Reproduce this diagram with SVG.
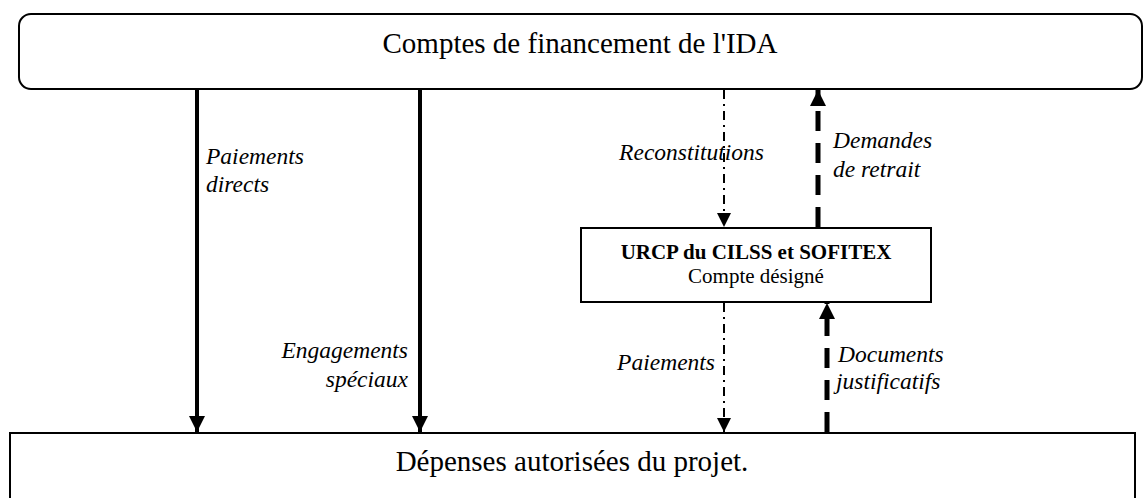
<svg xmlns="http://www.w3.org/2000/svg" width="1143" height="498" viewBox="0 0 1143 498">
<style>
.box{fill:#fff;stroke:#000;stroke-width:2}
.t{font-family:"Liberation Serif","Times New Roman",serif;fill:#000}
.lbl{font-family:"Liberation Serif","Times New Roman",serif;font-style:italic;font-size:23.5px;fill:#000}
.solid{stroke:#000;stroke-width:4;fill:none}
.dd{stroke:#000;stroke-width:2;fill:none;stroke-dasharray:9 5 2 5}
.dash{stroke:#000;stroke-width:5;fill:none;stroke-dasharray:20 12}
</style>
<defs>
<marker id="ah" viewBox="0 0 10 10" refX="10" refY="5" markerWidth="16" markerHeight="16" markerUnits="userSpaceOnUse" orient="auto"><path d="M0,0 L10,5 L0,10 z" fill="#000"/></marker>
<marker id="ahs" viewBox="0 0 10 10" refX="10" refY="5" markerWidth="14" markerHeight="14" markerUnits="userSpaceOnUse" orient="auto"><path d="M0,0 L10,5 L0,10 z" fill="#000"/></marker>
</defs>
<g id="ida">
<rect class="box" x="19" y="14" width="1123" height="75" rx="12"/>
<text class="t" x="580" y="53" font-size="29" text-anchor="middle">Comptes de financement de l'IDA</text>
</g>
<g id="urcp">
<rect class="box" x="581" y="228" width="350" height="74"/>
<text class="t" x="756" y="259" font-size="21" font-weight="bold" text-anchor="middle">URCP du CILSS et SOFITEX</text>
<text class="t" x="756" y="283" font-size="21" text-anchor="middle">Compte désigné</text>
</g>
<g id="depenses">
<rect class="box" x="10" y="433" width="1125" height="80"/>
<text class="t" x="572" y="471" font-size="29" text-anchor="middle">Dépenses autorisées du projet.</text>
</g>
<g id="connectors">
<line class="solid" x1="197" y1="88" x2="197" y2="432" marker-end="url(#ah)"/>
<line class="solid" x1="420" y1="88" x2="420" y2="432" marker-end="url(#ah)"/>
<line class="dd" x1="724" y1="90" x2="724" y2="227" marker-end="url(#ahs)"/>
<line class="dd" x1="724" y1="303" x2="724" y2="432" marker-end="url(#ahs)"/>
<line class="dash" x1="818" y1="227" x2="818" y2="90" marker-end="url(#ah)"/>
<line class="dash" x1="827" y1="432" x2="827" y2="303" marker-end="url(#ah)"/>
</g>
<g id="labels">
<text class="lbl" x="206" y="164">Paiements</text>
<text class="lbl" x="206" y="192">directs</text>
<text class="lbl" x="408" y="358" text-anchor="end">Engagements</text>
<text class="lbl" x="408" y="387" text-anchor="end">spéciaux</text>
<text class="lbl" x="764" y="160" text-anchor="end">Reconstitutions</text>
<text class="lbl" x="833" y="148">Demandes</text>
<text class="lbl" x="833" y="177">de retrait</text>
<text class="lbl" x="715" y="370" text-anchor="end">Paiements</text>
<text class="lbl" x="838" y="362">Documents</text>
<text class="lbl" x="836" y="389">justificatifs</text>
</g>
</svg>
